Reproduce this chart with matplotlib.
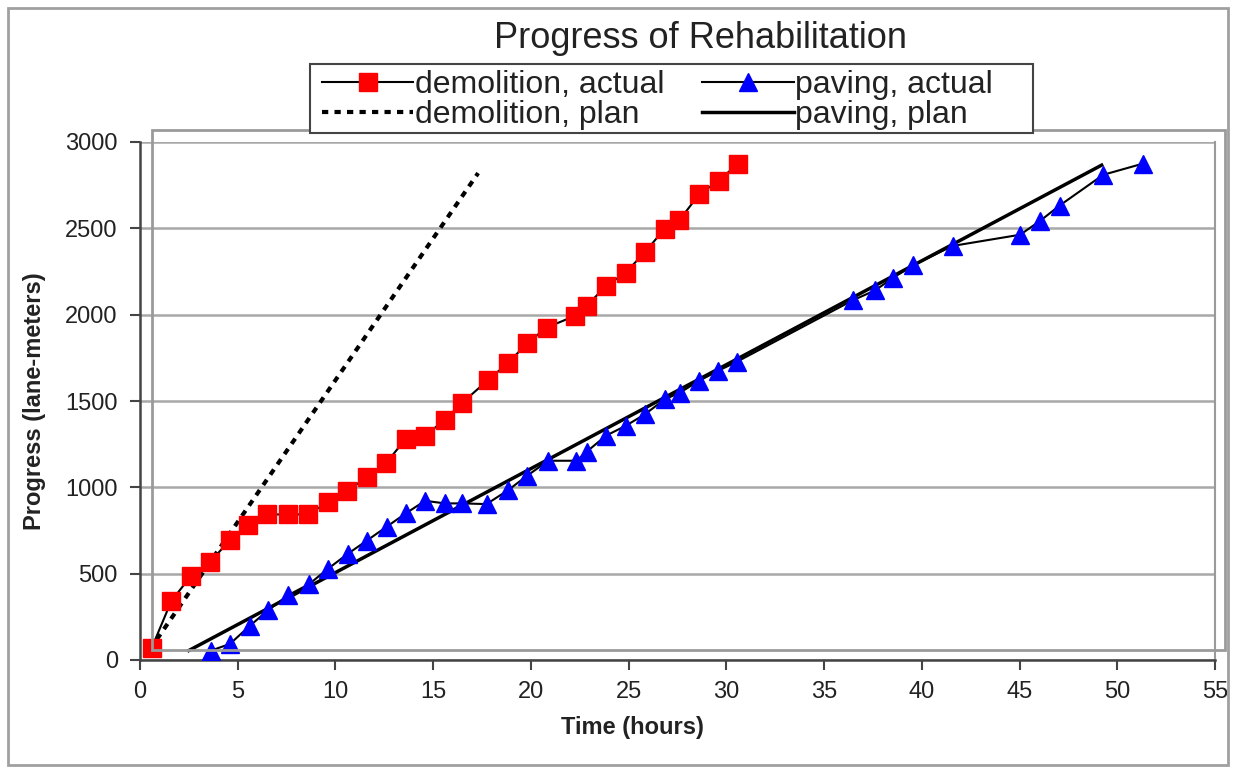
import matplotlib

matplotlib.use("Agg")
import matplotlib.pyplot as plt
from matplotlib.patches import Rectangle

plt.rcParams["font.family"] = ["Liberation Sans", "DejaVu Sans"]

# demolition, actual progress (hours, lane-meters)
demo_hours = [0.6, 1.6, 2.6, 3.6, 4.6, 5.5, 6.5, 7.55, 8.6, 9.6, 10.6, 11.6,
              12.6, 13.6, 14.6, 15.6, 16.45, 17.8, 18.85, 19.8, 20.8, 22.25,
              22.85, 23.85, 24.85, 25.85, 26.85, 27.6, 28.6, 29.6, 30.6]
demo_progress = [70, 341, 486, 569, 695, 782, 843, 843, 843, 913, 980, 1058,
                 1142, 1281, 1300, 1392, 1486, 1621, 1722, 1834, 1925, 1993,
                 2051, 2167, 2244, 2364, 2499, 2548, 2696, 2775, 2875]

# demolition, plan
demo_plan_hours = [0.5, 17.3]
demo_plan_progress = [60, 2820]

# paving, actual
pave_hours = [3.62, 4.6, 5.63, 6.57, 7.59, 8.66, 9.6, 10.62, 11.6, 12.62,
              13.6, 14.58, 15.6, 16.5, 17.73, 18.84, 19.78, 20.89, 22.33, 22.85,
              23.84, 24.86, 25.83, 26.85, 27.62, 28.59, 29.58, 30.55,
              36.5, 37.6, 38.55, 39.56, 41.57, 45.03, 46.05, 47.05, 49.28, 51.32]
pave_progress = [54, 93, 199, 290, 376, 440, 527, 614, 691, 772,
                 849, 922, 907, 907, 903, 984, 1065, 1154, 1154, 1206,
                 1299, 1357, 1423, 1510, 1548, 1616, 1675, 1728,
                 2085, 2140, 2215, 2286, 2398, 2463, 2543, 2632, 2810, 2875]

# paving, plan
pave_plan_hours = [2.5, 49.2]
pave_plan_progress = [55, 2866]

x_ticks = list(range(0, 56, 5))
y_ticks = list(range(0, 3001, 500))

W, H = 1235, 769
fig = plt.figure(figsize=(W / 100, H / 100), dpi=100)
ax = fig.add_axes([140 / W, 1 - 660 / H, 1075 / W, 518 / H])


def px_box(x0, y0, x1, y1, **kw):
    """Rectangle given in pixel corners (top-left origin), in figure coords."""
    return Rectangle((x0 / W, 1 - y1 / H), (x1 - x0) / W, (y1 - y0) / H,
                     transform=fig.transFigure, **kw)


# outer chart border and the offset plot-area frame
fig.patches.append(px_box(8, 8, 1228, 765, fill=False,
                          edgecolor="#a0a0a0", linewidth=2))
fig.patches.append(px_box(152, 130, 1225, 650, fill=False,
                          edgecolor="#9a9a9a", linewidth=2, zorder=0))

ax.set_facecolor("none")
ax.set_xlim(0, 55)
ax.set_ylim(0, 3000)
ax.set_xticks(x_ticks)
ax.set_yticks(y_ticks)
ax.grid(axis="y", color="#a8a8a8", linewidth=1.8)
ax.set_axisbelow(True)

ax.spines["top"].set_visible(False)
ax.spines["right"].set_color("#9a9a9a")
ax.spines["right"].set_linewidth(1.5)
for side in ("left", "bottom"):
    ax.spines[side].set_color("#444444")
    ax.spines[side].set_linewidth(1.8)

ax.tick_params(axis="both", direction="out", length=7, width=1.5,
               color="#444444", labelsize=17, labelcolor="#222222", pad=8)
ax.tick_params(axis="y", pad=9)

h1, = ax.plot(demo_hours, demo_progress, color="black", linewidth=1.5,
              marker="s", markersize=13, markerfacecolor="#ff0000",
              markeredgecolor="#ff0000", label="demolition, actual", zorder=4)
h2, = ax.plot(demo_plan_hours, demo_plan_progress, color="black",
              linewidth=3, dashes=(1.5, 1.5), label="demolition, plan", zorder=3)
h3, = ax.plot(pave_hours, pave_progress, color="black", linewidth=1.5,
              marker="^", markersize=13, markerfacecolor="#0000ff",
              markeredgecolor="#0000ff", label="paving, actual", zorder=4)
h4, = ax.plot(pave_plan_hours, pave_plan_progress, color="black",
              linewidth=2.5, label="paving, plan", zorder=3)

ax.set_xlabel("Time (hours)", fontsize=17, fontweight="bold", color="#222222")
ax.xaxis.set_label_coords((632 - 140) / 1075, (660 - 716) / 518)
ax.set_ylabel("Progress (lane-meters)", fontsize=17, fontweight="bold",
              color="#222222", labelpad=14)

fig.text(700 / W, 1 - 38 / H, "Progress of Rehabilitation", fontsize=26,
         color="#222222", ha="center", va="center")

# legend frame drawn separately so its width stays fixed
fig.patches.append(px_box(310, 64, 1033, 133, facecolor="white",
                          edgecolor="#444444", linewidth=1.5, zorder=5))
leg = fig.legend(handles=[h1, h2, h3, h4], ncol=2, loc="upper left",
                 bbox_to_anchor=(322 / W, 1 - 70 / H), fontsize=23,
                 frameon=False, handlelength=2.85, handletextpad=0.05,
                 columnspacing=1.2, labelspacing=0.0, borderpad=0,
                 borderaxespad=0)
leg.set_zorder(6)
for text in leg.get_texts():
    text.set_color("#222222")

fig.savefig("out.png", dpi=100)
plt.close(fig)
